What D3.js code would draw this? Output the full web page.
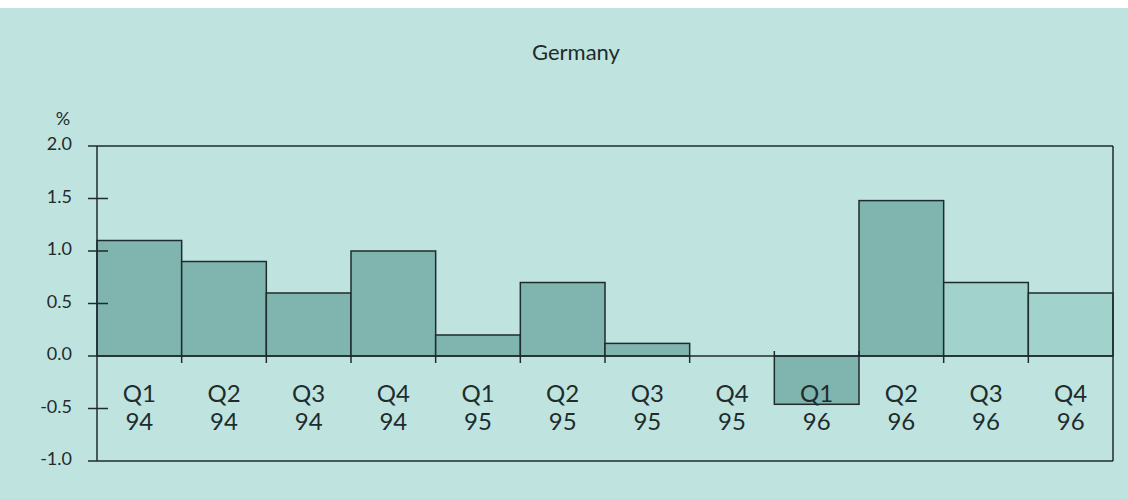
<!DOCTYPE html>
<html>
<head>
<meta charset="utf-8">
<script src="https://cdn.jsdelivr.net/npm/d3@7"></script>
<style>
html,body{margin:0;padding:0;background:#ffffff;}
svg{display:block;}
</style>
</head>
<body>
<svg id="chart" width="1128" height="499"></svg>
<script>
const title = "Germany";
const quarters = ["Q1","Q2","Q3","Q4","Q1","Q2","Q3","Q4","Q1","Q2","Q3","Q4"];
const years = ["94","94","94","94","95","95","95","95","96","96","96","96"];
const values = [1.1, 0.9, 0.6, 1.0, 0.2, 0.7, 0.12, 0.0, -0.46, 1.48, 0.7, 0.6];
const forecast = [false,false,false,false,false,false,false,false,false,false,true,true];
const yTicks = [-1.0, -0.5, 0.0, 0.5, 1.0, 1.5, 2.0];
const yTickLabels = ["-1.0","-0.5","0.0","0.5","1.0","1.5","2.0"];
const yUnit = "%";

const svg = d3.select("#chart");
const W = 1128, H = 499;
const font = "Lato, 'Open Sans', sans-serif";
const ink = "#1f2b2c";

svg.append("rect").attr("x",0).attr("y",8).attr("width",W).attr("height",H-8).attr("fill","#bfe4e0");

const x0 = 97, x1 = 1113;
const x = d3.scaleBand().domain(d3.range(values.length)).range([x0, x1]).padding(0);
const y = d3.scaleLinear().domain([-1, 2]).range([461, 146]);

const g = svg.append("g");

// bars
g.selectAll("rect.bar").data(values).enter().append("rect")
  .attr("class","bar")
  .attr("x",(d,i)=>x(i))
  .attr("width",x.bandwidth())
  .attr("y",d=>y(Math.max(0,d)))
  .attr("height",d=>Math.abs(y(d)-y(0)))
  .attr("fill",(d,i)=>forecast[i] ? "#a2d2cc" : "#80b4af")
  .attr("stroke",d=>d===0?"none":ink)
  .attr("stroke-width",1.5);

// frame
[2, -1, 0].forEach(v=>{
  g.append("line").attr("x1",88).attr("x2",x1).attr("y1",y(v)).attr("y2",y(v)).attr("stroke",ink).attr("stroke-width",1.5);
});
g.append("line").attr("x1",x0).attr("x2",x0).attr("y1",y(2)).attr("y2",y(-1)).attr("stroke",ink).attr("stroke-width",1.5);
g.append("line").attr("x1",x1).attr("x2",x1).attr("y1",y(2)).attr("y2",y(-1)).attr("stroke",ink).attr("stroke-width",1.5);

// y ticks
const yAxis = d3.axisLeft(y).tickValues(yTicks).tickFormat((d,i)=>yTickLabels[i]).tickSizeInner(0).tickSizeOuter(0).tickPadding(0);
const ya = svg.append("g").attr("transform",`translate(72,-2)`).call(yAxis);
ya.select(".domain").remove();
ya.selectAll("text").attr("font-family",font).attr("font-size",18).attr("fill",ink);
g.selectAll("line.ytick").data(yTicks.filter(t=>t!==2 && t!==-1 && t!==0)).enter().append("line")
  .attr("x1",88).attr("x2",108).attr("y1",d=>y(d)).attr("y2",d=>y(d)).attr("stroke",ink).attr("stroke-width",1.5);

// category boundary ticks
const bounds = d3.range(1, values.length);
g.selectAll("line.xtick").data(bounds).enter().append("line")
  .attr("x1",i=>x(i)).attr("x2",i=>x(i))
  .attr("y1",y(0))
  .attr("y2",i=> (values[i]<0 || values[i-1]<0) ? y(0)-5 : y(0)+7)
  .attr("stroke",ink).attr("stroke-width",1.5);

// category labels
const lab = svg.append("g").attr("font-family",font).attr("font-size",24).attr("fill",ink).attr("text-anchor","middle");
lab.selectAll("text.q").data(quarters).enter().append("text")
  .attr("x",(d,i)=>x(i)+x.bandwidth()/2).attr("y",402).text(d=>d);
lab.selectAll("text.yr").data(years).enter().append("text")
  .attr("x",(d,i)=>x(i)+x.bandwidth()/2).attr("y",430).text(d=>d);

// unit
svg.append("text").attr("x",63).attr("y",125).attr("text-anchor","middle").attr("font-family",font).attr("font-size",18).attr("fill",ink).text(yUnit);

// title
svg.append("text").attr("x",576).attr("y",60).attr("text-anchor","middle").attr("font-family",font).attr("font-size",22).attr("fill",ink).text(title);
</script>
</body>
</html>
